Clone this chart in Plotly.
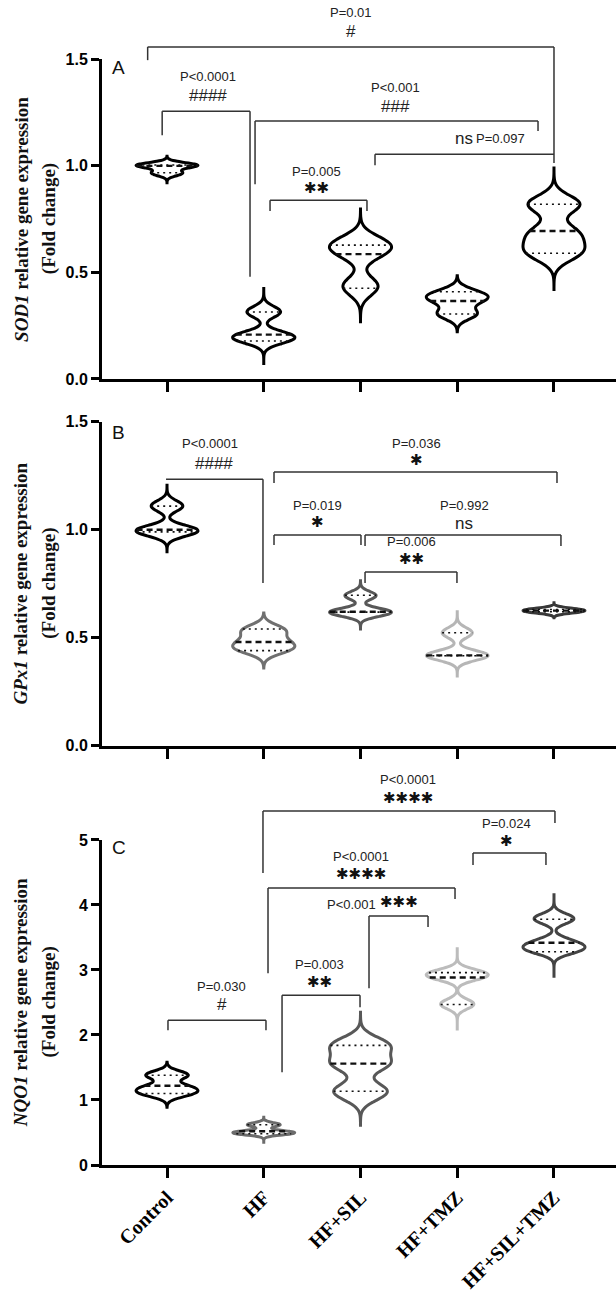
import numpy as np
import plotly.graph_objects as go
from plotly.subplots import make_subplots

groups = ["Control", "HF", "HF+SIL", "HF+TMZ", "HF+SIL+TMZ"]

# ---------------- Panel A : SOD1 ----------------
sod1_values = [
    [0.962, 0.97, 0.998, 1.0, 1.004, 1.008],
    [0.18, 0.19, 0.20, 0.21, 0.31, 0.32],
    [0.42, 0.45, 0.58, 0.61, 0.63, 0.65],
    [0.30, 0.31, 0.36, 0.38, 0.39, 0.41],
    [0.58, 0.61, 0.66, 0.70, 0.81, 0.83],
]
sod1_bw = [0.012, 0.025, 0.04, 0.025, 0.04]
sod1_span = [[0.914, 1.045], [0.066, 0.431], [0.262, 0.797], [0.222, 0.484], [0.42, 0.99]]
sod1_median = [1.0, 0.208, 0.586, 0.366, 0.694]
sod1_q1 = [0.968, 0.178, 0.426, 0.305, 0.59]
sod1_q3 = [1.004, 0.314, 0.628, 0.409, 0.82]

# ---------------- Panel B : GPx1 ----------------
gpx1_values = [
    [0.98, 0.99, 1.0, 1.01, 1.10, 1.12],
    [0.44, 0.45, 0.47, 0.49, 0.53, 0.54],
    [0.61, 0.615, 0.62, 0.625, 0.69, 0.70],
    [0.41, 0.415, 0.42, 0.425, 0.515, 0.53],
    [0.615, 0.62, 0.623, 0.627, 0.63, 0.635],
]
gpx1_bw = [0.022, 0.025, 0.018, 0.022, 0.008]
gpx1_span = [[0.898, 1.206], [0.359, 0.614], [0.54, 0.763], [0.322, 0.62], [0.592, 0.662]]
gpx1_median = [1.0, 0.48, 0.62, 0.418, 0.625]
gpx1_q1 = [0.99, 0.44, 0.618, 0.416, 0.62]
gpx1_q3 = [1.109, 0.54, 0.696, 0.523, 0.63]

# ---------------- Panel C : NQO1 ----------------
nqo1_values = [
    [1.08, 1.12, 1.17, 1.22, 1.37, 1.40],
    [0.48, 0.49, 0.50, 0.52, 0.61, 0.63],
    [1.08, 1.18, 1.52, 1.60, 1.80, 1.88],
    [2.45, 2.50, 2.88, 2.90, 2.95, 2.97],
    [3.28, 3.33, 3.38, 3.45, 3.76, 3.82],
]
nqo1_bw = [0.06, 0.03, 0.12, 0.07, 0.07]
nqo1_span = [[0.89, 1.58], [0.35, 0.735], [0.61, 2.35], [2.07, 3.35], [2.88, 4.18]]
nqo1_median = [1.22, 0.52, 1.56, 2.885, 3.42]
nqo1_q1 = [1.10, 0.48, 1.135, 2.47, 3.28]
nqo1_q3 = [1.38, 0.62, 1.84, 2.96, 3.78]

# significance brackets: (x_left, x_right, y, left_leg_bottom, right_leg_bottom)
sod1_brackets = [
    (-0.20, 4.00, 1.558, 1.496, 1.013),
    (-0.05, 0.858, 1.256, 1.144, 0.48),
    (0.91, 3.835, 1.21, 0.914, 1.163),
    (2.15, 4.00, 1.055, 1.003, None),
    (1.065, 2.067, 0.839, 0.788, 0.788),
]
sod1_labels = [
    (1.90, 1.721, "P=0.01", "p"), (1.90, 1.632, "#", "sym"),
    (0.424, 1.42, "P<0.0001", "p"), (0.424, 1.331, "####", "sym"),
    (2.357, 1.369, "P<0.001", "p"), (2.357, 1.28, "###", "sym"),
    (3.07, 1.13, "ns", "sym"), (3.45, 1.13, "P=0.097", "p"),
    (1.55, 0.975, "P=0.005", "p"), (1.55, 0.895, "✱✱", "star"),
]
gpx1_brackets = [
    (-0.01, 0.992, 1.234, None, 0.753),
    (1.106, 4.031, 1.267, 1.216, 1.216),
    (1.106, 2.005, 0.975, 0.929, 0.929),
    (2.047, 4.072, 0.975, 0.924, 0.924),
    (2.047, 2.997, 0.804, 0.753, 0.753),
]
gpx1_labels = [
    (0.444, 1.401, "P<0.0001", "p"), (0.486, 1.308, "####", "sym"),
    (2.574, 1.401, "P=0.036", "p"), (2.574, 1.322, "✱", "star"),
    (1.56, 1.114, "P=0.019", "p"), (1.56, 1.035, "✱", "star"),
    (3.07, 1.114, "P=0.992", "p"), (3.07, 1.03, "ns", "sym"),
    (2.532, 0.947, "P=0.006", "p"), (2.532, 0.864, "✱✱", "star"),
]
nqo1_brackets = [
    (0.992, 4.01, 5.447, 4.49, 5.262),
    (3.163, 3.917, 4.80, 4.615, 4.615),
    (1.044, 2.977, 4.26, 2.95, 4.091),
    (2.088, 2.698, 3.829, 2.72, 3.66),
    (1.189, 1.995, 2.612, 1.425, 2.427),
    (0.01, 1.023, 2.226, 2.072, 2.072),
]
nqo1_labels = [
    (2.49, 5.925, "P<0.0001", "p"), (2.49, 5.648, "✱✱✱✱", "star"),
    (3.514, 5.247, "P=0.024", "p"), (3.514, 4.985, "✱", "star"),
    (2.005, 4.753, "P<0.0001", "p"), (2.005, 4.476, "✱✱✱✱", "star"),
    (1.912, 4.014, "P<0.001", "p"), (2.398, 4.045, "✱✱✱", "star"),
    (1.581, 3.09, "P=0.003", "p"), (1.581, 2.812, "✱✱", "star"),
    (0.568, 2.75, "P=0.030", "p"), (0.568, 2.473, "#", "sym"),
]

panels = [
    dict(values=sod1_values, bw=sod1_bw, span=sod1_span, med=sod1_median, q1=sod1_q1, q3=sod1_q3,
         colors=["#000000"] * 5, ymax=1.5, tickvals=[0, 0.5, 1.0, 1.5], ticktext=["0.0", "0.5", "1.0", "1.5"],
         brackets=sod1_brackets, labels=sod1_labels, gene="SOD1", letter="A", letter_y=1.46,
         domain=[0.6747, 0.9491]),
    dict(values=gpx1_values, bw=gpx1_bw, span=gpx1_span, med=gpx1_median, q1=gpx1_q1, q3=gpx1_q3,
         colors=["#000000", "#707070", "#585858", "#b6b6b6", "#383838"], ymax=1.5,
         tickvals=[0, 0.5, 1.0, 1.5], ticktext=["0.0", "0.5", "1.0", "1.5"],
         brackets=gpx1_brackets, labels=gpx1_labels, gene="GPx1", letter="B", letter_y=1.45,
         domain=[0.36, 0.638]),
    dict(values=nqo1_values, bw=nqo1_bw, span=nqo1_span, med=nqo1_median, q1=nqo1_q1, q3=nqo1_q3,
         colors=["#000000", "#6c6c6c", "#585858", "#bcbcbc", "#444444"], ymax=5,
         tickvals=[0, 1, 2, 3, 4, 5], ticktext=["0", "1", "2", "3", "4", "5"],
         brackets=nqo1_brackets, labels=nqo1_labels, gene="NQO1", letter="C", letter_y=4.89,
         domain=[0.0, 0.279]),
]

VW = 0.64  # violin full width in category units
XR = [-0.672, 4.641]


def kde(vals, bw, t):
    vals = np.asarray(vals, dtype=float)
    t = np.atleast_1d(np.asarray(t, dtype=float))
    u = (t[:, None] - vals[None, :]) / bw
    return np.exp(-0.5 * u ** 2).sum(axis=1) / (len(vals) * bw * np.sqrt(2 * np.pi))


fig = make_subplots(rows=3, cols=1)
annotations = []
shapes = []
BRK = dict(color="#333333", width=1.5)

for p_i, P in enumerate(panels):
    row = p_i + 1
    xa = "x" if row == 1 else f"x{row}"
    ya = "y" if row == 1 else f"y{row}"
    ymax = P["ymax"]
    for g_i, g in enumerate(groups):
        vals = P["values"][g_i]
        bw = P["bw"][g_i]
        span = P["span"][g_i]
        col = P["colors"][g_i]
        fig.add_trace(go.Violin(
            x=[g_i] * len(vals), y=vals, name=g, bandwidth=bw, spanmode="manual", span=span,
            width=VW, scalemode="width", points=False, box_visible=False, meanline_visible=False,
            line=dict(color=col, width=3), fillcolor="rgba(255,255,255,0)", showlegend=False,
            hoverinfo="skip"), row=row, col=1)
        # width of the violin at the quartile lines (same KDE as the violin)
        dist = span[1] - span[0]
        n = int(np.ceil(dist / (bw / 3)))
        grid = span[0] + np.arange(n + 1) * dist / n
        maxk = kde(vals, bw, grid).max()
        for q, dash, lw in [(P["med"][g_i], "6px,4px", 2.4),
                            (P["q1"][g_i], "2px,4px", 1.6),
                            (P["q3"][g_i], "2px,4px", 1.6)]:
            hw = VW / 2 * kde(vals, bw, q)[0] / maxk
            fig.add_trace(go.Scatter(
                x=[g_i - hw, g_i + hw], y=[q, q], mode="lines",
                line=dict(color="#111111", width=lw, dash=dash),
                showlegend=False, hoverinfo="skip"), row=row, col=1)

    # brackets
    for (x0, x1, y, l0, l1) in P["brackets"]:
        shapes.append(dict(type="line", xref=xa, yref=f"{ya} domain", x0=x0, x1=x1,
                           y0=y / ymax, y1=y / ymax, line=BRK))
        if l0 is not None:
            shapes.append(dict(type="line", xref=xa, yref=f"{ya} domain", x0=x0, x1=x0,
                               y0=y / ymax, y1=l0 / ymax, line=BRK))
        if l1 is not None:
            shapes.append(dict(type="line", xref=xa, yref=f"{ya} domain", x0=x1, x1=x1,
                               y0=y / ymax, y1=l1 / ymax, line=BRK))
    for (x, y, txt, kind) in P["labels"]:
        if kind == "p":
            font = dict(family="Liberation Sans", size=13, color="#222222")
        elif kind == "star":
            font = dict(family="DejaVu Sans", size=15, color="#111111")
        else:
            font = dict(family="Liberation Sans", size=17, color="#222222")
        annotations.append(dict(x=x, y=y / ymax, xref=xa, yref=f"{ya} domain", text=txt,
                                showarrow=False, font=font, xanchor="center", yanchor="middle"))
    # panel letter
    annotations.append(dict(x=0.033, y=P["letter_y"] / ymax, xref="paper", yref=f"{ya} domain",
                            text=P["letter"], showarrow=False,
                            font=dict(family="Liberation Sans", size=19, color="#111111"),
                            xanchor="center", yanchor="middle"))
    # y titles
    annotations.append(dict(x=-0.158, y=0.5, xref="paper", yref=f"{ya} domain",
                            text=f"<b><i>{P['gene']}</i> relative gene expression</b>",
                            textangle=-90, showarrow=False,
                            font=dict(family="Liberation Serif", size=19, color="#111111"),
                            xanchor="center", yanchor="middle"))
    annotations.append(dict(x=-0.103, y=0.5, xref="paper", yref=f"{ya} domain",
                            text="<b>(Fold change)</b>", textangle=-90, showarrow=False,
                            font=dict(family="Liberation Serif", size=19, color="#111111"),
                            xanchor="center", yanchor="middle"))

    fig.update_yaxes(range=[0, ymax], domain=P["domain"], tickvals=P["tickvals"], ticktext=P["ticktext"],
                     showline=True, linecolor="black", linewidth=3, ticks="outside", ticklen=8,
                     tickwidth=3, tickcolor="black", showgrid=False, zeroline=False,
                     tickfont=dict(family="Liberation Sans", size=16, color="black", weight="bold"),
                     row=row, col=1)
    fig.update_xaxes(range=XR, tickvals=list(range(len(groups))), ticktext=groups,
                     showticklabels=(row == 3), tickangle=-45,
                     showline=True, linecolor="black", linewidth=3, ticks="outside", ticklen=10,
                     tickwidth=3, tickcolor="black", showgrid=False, zeroline=False,
                     tickfont=dict(family="Liberation Serif", size=20, color="black", weight="bold"),
                     row=row, col=1)

fig.update_layout(
    width=616, height=1293,
    margin=dict(l=102, r=0, t=0, b=128, autoexpand=False),
    paper_bgcolor="white", plot_bgcolor="white",
    violinmode="overlay", showlegend=False,
    shapes=shapes, annotations=annotations,
)

fig.write_html("out.html")
